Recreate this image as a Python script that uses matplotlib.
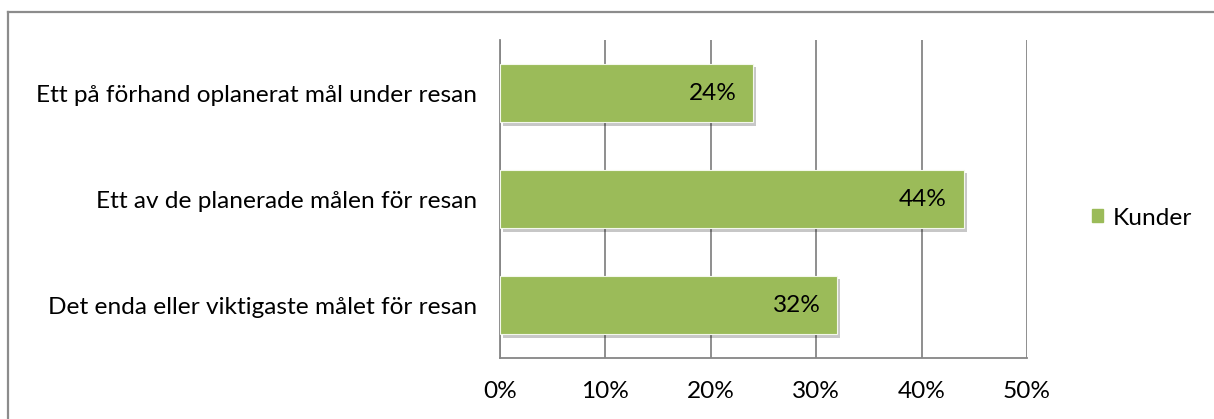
import matplotlib
matplotlib.use("Agg")
import matplotlib.pyplot as plt
import matplotlib.patheffects as pe
from matplotlib.patches import Patch
from matplotlib.lines import Line2D

categories = [
    "Det enda eller viktigaste målet för resan",
    "Ett av de planerade målen för resan",
    "Ett på förhand oplanerat mål under resan",
]
kunder = [32, 44, 24]
x_ticks = [0, 10, 20, 30, 40, 50]
x_tick_labels = ["0%", "10%", "20%", "30%", "40%", "50%"]
series_name = "Kunder"

W, H = 1214, 419
FS = 17.6
plt.rcParams["font.family"] = ["Lato", "DejaVu Sans"]
fig = plt.figure(figsize=(W / 100, H / 100), dpi=100)

# outer chart frame (top and left edges)
frame_col = "#8c8c8c"
fig.add_artist(Line2D([8 / W, 1.0], [1 - 12 / H, 1 - 12 / H], color=frame_col, lw=1.6,
                      transform=fig.transFigure))
fig.add_artist(Line2D([8 / W, 8 / W], [0, 1 - 12 / H], color=frame_col, lw=1.6,
                      transform=fig.transFigure))

left, right, top, bottom = 500, 1027, 40, 358
ax = fig.add_axes([left / W, 1 - bottom / H, (right - left) / W, (bottom - top) / H])

grid_col = "#868686"
bar_col = "#9BBB59"
ypos = list(range(len(categories)))
bars = ax.barh(ypos, kunder, height=0.55, color=bar_col, edgecolor="#f4f8ec", linewidth=0.8,
               zorder=3)
for b in bars:
    b.set_path_effects([pe.SimplePatchShadow(offset=(2, -2.5), shadow_rgbFace="#000000",
                                             alpha=0.22), pe.Normal()])

for y, v in zip(ypos, kunder):
    ax.annotate(f"{v}%", xy=(v, y), xytext=(-12, 0), textcoords="offset points",
                ha="right", va="center", fontsize=FS, color="#000000", zorder=4)

ax.set_xlim(0, 50)
ax.set_ylim(-0.5, len(categories) - 0.5)
ax.set_xticks(x_ticks)
ax.set_xticklabels(x_tick_labels)
ax.set_yticks(ypos)
ax.set_yticklabels(categories)
ax.tick_params(axis="both", length=0, labelsize=FS, colors="#000000")
ax.tick_params(axis="y", pad=16.5)
ax.tick_params(axis="x", pad=16.5)

ax.grid(axis="x", color=grid_col, lw=1.3, zorder=1)
for s in ["top", "right"]:
    ax.spines[s].set_visible(False)
for s in ["left", "bottom"]:
    ax.spines[s].set_color(grid_col)
    ax.spines[s].set_linewidth(1.3)

handle = Patch(facecolor=bar_col, edgecolor=bar_col)
fig.legend([handle], [series_name], loc="center left",
           bbox_to_anchor=(1082 / W, 1 - 218 / H), frameon=False, fontsize=FS,
           handlelength=0.45, handleheight=0.45, handletextpad=0.4, borderaxespad=0)

fig.savefig("out.png", dpi=100, facecolor="white")
